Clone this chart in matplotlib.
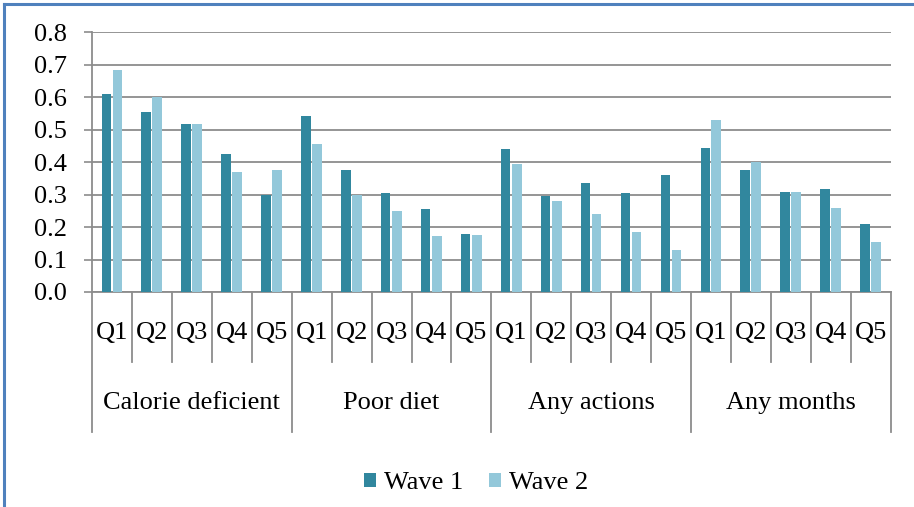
import matplotlib.pyplot as plt
import numpy as np
from matplotlib.lines import Line2D
from matplotlib.transforms import blended_transform_factory

plt.rcParams['font.family'] = ['Liberation Serif', 'DejaVu Serif']

# data
groups = ['Calorie deficient', 'Poor diet', 'Any actions', 'Any months']
quintiles = ['Q1', 'Q2', 'Q3', 'Q4', 'Q5']
wave1 = [0.61, 0.555, 0.517, 0.424, 0.30,
         0.542, 0.375, 0.306, 0.257, 0.178,
         0.44, 0.295, 0.336, 0.305, 0.36,
         0.444, 0.376, 0.308, 0.317, 0.208]
wave2 = [0.684, 0.60, 0.517, 0.369, 0.377,
         0.455, 0.30, 0.248, 0.173, 0.175,
         0.394, 0.28, 0.24, 0.186, 0.13,
         0.531, 0.40, 0.308, 0.258, 0.153]

col1 = '#31879E'
col2 = '#93C8DA'
grey = '#8C8C8C'
fs = 19

fig = plt.figure(figsize=(9.14, 5.07), dpi=100)
ax = fig.add_axes([0.1007, 0.4241, 0.8738, 0.5122])

x = np.arange(len(wave1))
ax.bar(x - 0.145, wave1, width=0.235, color=col1, label='Wave 1', zorder=3)
ax.bar(x + 0.135, wave2, width=0.245, color=col2, label='Wave 2', zorder=3)

ax.set_xlim(-0.5, len(wave1) - 0.5)
ax.set_ylim(0, 0.8)
ax.set_yticks(np.arange(0, 0.81, 0.1))
ax.set_yticklabels([f'{v:.1f}' for v in np.arange(0, 0.81, 0.1)], fontsize=fs)
ax.tick_params(axis='y', length=6, width=1.2, color=grey, pad=12)
ax.set_xticks([])
ax.grid(axis='y', color=grey, linewidth=1.3, zorder=0)
for s in ['top', 'right']:
    ax.spines[s].set_visible(False)
for s in ['left', 'bottom']:
    ax.spines[s].set_color(grey)
    ax.spines[s].set_linewidth(1.3)

# two-level category axis drawn below the plot
tr = blended_transform_factory(ax.transData, ax.transAxes)
for i in range(len(wave1) + 1):
    b = i - 0.5
    depth = -0.538 if i % 5 == 0 else -0.269
    ax.add_line(Line2D([b, b], [0, depth], transform=tr, color=grey,
                       linewidth=1.3, clip_on=False))
for i in range(len(wave1)):
    ax.text(i, -0.158, quintiles[i % 5], transform=tr, ha='center',
            va='center', fontsize=fs)
for g, name in enumerate(groups):
    ax.text(g * 5 + 2, -0.427, name, transform=tr, ha='center',
            va='center', fontsize=fs)

fig.legend(loc='center', bbox_to_anchor=(0.521, 0.047), ncol=2, frameon=False,
           fontsize=fs, handlelength=0.45, handleheight=0.45,
           handletextpad=0.3, columnspacing=1.0)

# blue frame (top and left edges visible)
fig.add_artist(Line2D([4 / 914, 1], [1 - 4 / 507, 1 - 4 / 507],
                      transform=fig.transFigure, color='#4F81BD', linewidth=2.2))
fig.add_artist(Line2D([4 / 914, 4 / 914], [0, 1 - 4 / 507],
                      transform=fig.transFigure, color='#4F81BD', linewidth=2.2))

fig.savefig('out.png', dpi=100)
